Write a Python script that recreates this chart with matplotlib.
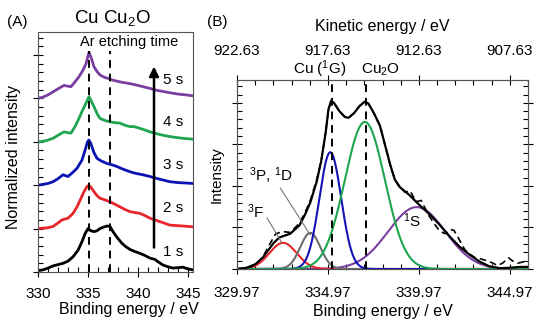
import numpy as np
import matplotlib
matplotlib.use("Agg")
import matplotlib.pyplot as plt
from matplotlib.ticker import MultipleLocator, FixedLocator

plt.rcParams['font.family'] = ['Liberation Sans', 'DejaVu Sans']
plt.rcParams['mathtext.fontset'] = 'custom'
plt.rcParams['mathtext.rm'] = 'Liberation Sans'
plt.rcParams['mathtext.it'] = 'Liberation Sans:italic'
plt.rcParams['font.size'] = 11

# ---------------- Panel A data (stacked, normalized) ----------------
a_1s_x = [330.0, 330.5, 331.0, 331.5, 332.0, 332.5, 333.0, 333.5, 334.0, 334.4, 334.7, 335.0, 335.3, 335.6,
          335.9, 336.2, 336.5, 336.9, 337.2, 337.5, 337.9, 338.4, 338.8, 339.2, 339.7, 340.2, 340.7, 341.2,
          341.7, 342.1, 342.5, 343.0, 343.5, 344.0, 344.5, 345.0, 345.5]
a_1s_y = [0.03, 0.05, 0.09, 0.14, 0.17, 0.20, 0.25, 0.35, 0.50, 0.70, 0.88, 1.00, 0.95, 0.93,
          0.95, 1.00, 1.03, 1.06, 1.05, 0.93, 0.80, 0.66, 0.58, 0.52, 0.47, 0.43, 0.38, 0.32,
          0.29, 0.22, 0.16, 0.12, 0.09, 0.10, 0.11, 0.07, 0.05]

a_2s_x = [330.0, 330.5, 331.0, 331.5, 332.0, 332.4, 333.0, 333.5, 333.9, 334.3, 334.6, 334.9, 335.1, 335.3,
          335.6, 335.9, 336.2, 336.7, 337.2, 337.7, 338.2, 338.7, 339.2, 339.7, 340.2, 340.7, 341.2, 341.7,
          342.2, 342.7, 343.2, 343.8, 344.5, 345.0, 345.5]
a_2s_y = [1.00, 1.01, 1.02, 1.05, 1.13, 1.20, 1.24, 1.35, 1.50, 1.70, 1.85, 1.97, 2.00, 1.95,
          1.85, 1.76, 1.70, 1.66, 1.62, 1.56, 1.50, 1.44, 1.39, 1.37, 1.35, 1.30, 1.24, 1.20,
          1.16, 1.12, 1.08, 1.07, 1.06, 1.05, 1.04]

a_3s_x = [330.0, 330.5, 331.0, 331.5, 332.0, 332.5, 333.0, 333.5, 333.9, 334.4, 334.7, 334.95, 335.1, 335.3,
          335.6, 335.9, 336.3, 336.9, 337.4, 337.9, 338.5, 339.2, 339.8, 340.5, 341.2, 341.8, 342.5, 343.2,
          344.0, 344.8, 345.5]
a_3s_y = [2.00, 2.02, 2.04, 2.08, 2.15, 2.24, 2.20, 2.30, 2.39, 2.58, 2.80, 3.00, 3.04, 2.95,
          2.75, 2.62, 2.56, 2.50, 2.47, 2.43, 2.37, 2.31, 2.27, 2.24, 2.20, 2.16, 2.12, 2.08,
          2.06, 2.05, 2.04]

a_4s_x = [330.0, 330.5, 331.0, 331.5, 332.0, 332.6, 333.0, 333.3, 333.7, 334.1, 334.5, 334.8, 335.1, 335.3,
          335.6, 335.9, 336.2, 336.7, 337.2, 337.7, 338.2, 338.7, 339.2, 339.6, 340.2, 340.7, 341.2, 341.8,
          342.5, 343.2, 343.8, 344.5, 345.5]
a_4s_y = [3.00, 3.01, 3.04, 3.08, 3.15, 3.23, 3.21, 3.20, 3.35, 3.54, 3.75, 3.89, 4.04, 3.95,
          3.81, 3.65, 3.54, 3.49, 3.46, 3.44, 3.43, 3.38, 3.35, 3.35, 3.31, 3.27, 3.23, 3.19,
          3.15, 3.12, 3.10, 3.08, 3.06]

a_5s_x = [330.0, 330.5, 331.0, 331.5, 332.0, 332.6, 333.0, 333.3, 333.7, 334.1, 334.5, 334.8, 335.1, 335.3,
          335.6, 335.9, 336.2, 336.6, 337.0, 337.5, 338.2, 338.7, 339.2, 339.8, 340.5, 341.2, 341.8, 342.5,
          343.2, 344.0, 344.8, 345.5]
a_5s_y = [4.00, 4.03, 4.08, 4.15, 4.22, 4.30, 4.28, 4.27, 4.38, 4.50, 4.65, 4.80, 5.06, 4.95,
          4.73, 4.62, 4.54, 4.49, 4.46, 4.42, 4.38, 4.36, 4.34, 4.31, 4.27, 4.23, 4.19, 4.16,
          4.13, 4.10, 4.08, 4.06]

a_labels = ["1 s", "2 s", "3 s", "4 s", "5 s"]
a_label_y = [0.47, 1.47, 2.47, 3.46, 4.42]
a_colors = ["black", "#E8262A", "#0A14B4", "#1EA550", "#7A3DA0"]
ref_lines_a = [335.1, 337.2]

# ---------------- Panel B data (Cu LMM fit) ----------------
env_x = [329.97, 330.5, 331.0, 331.4, 331.97, 332.3, 332.9, 333.4, 333.7, 334.0, 334.35, 334.6, 334.85, 335.0,
         335.15, 335.3, 335.6, 335.9, 336.1, 336.4, 336.7, 337.0, 337.2, 337.5, 337.83, 338.1, 338.4, 338.65,
         338.9, 339.45, 340.0, 340.6, 341.12, 341.67, 342.2, 342.77, 343.3, 343.87, 344.42, 345.0, 345.5, 345.97]
env_y = [0.0, 0.03, 0.12, 0.28, 0.62, 0.76, 0.85, 1.05, 1.30, 1.60, 2.10, 2.60, 3.30, 3.85,
         4.05, 4.00, 3.80, 3.66, 3.64, 3.75, 3.92, 4.03, 3.98, 3.75, 3.45, 3.00, 2.50, 2.15,
         1.98, 1.78, 1.54, 1.30, 1.06, 0.78, 0.54, 0.34, 0.18, 0.06, 0.02, 0.03, 0.05, 0.05]

raw_x = [329.97, 330.5, 331.0, 331.4, 331.8, 332.1, 332.5, 332.9, 333.4, 333.7, 334.0, 334.35, 334.6, 334.85,
         335.0, 335.15, 335.3, 335.6, 335.9, 336.1, 336.4, 336.7, 337.0, 337.2, 337.5, 337.83, 338.1, 338.4,
         338.65, 338.9, 339.2, 339.5, 339.8, 340.1, 340.5, 340.8, 341.1, 341.4, 341.7, 341.9, 342.2, 342.5,
         342.8, 343.1, 343.4, 343.7, 344.0, 344.3, 344.6, 344.9, 345.1, 345.4, 345.7, 345.97]
raw_y = [0.0, 0.02, 0.10, 0.30, 0.62, 0.85, 0.90, 0.88, 1.10, 1.35, 1.65, 2.15, 2.60, 3.30,
         3.85, 4.05, 4.00, 3.80, 3.66, 3.64, 3.75, 3.92, 4.03, 3.98, 3.75, 3.45, 3.00, 2.50,
         2.15, 2.00, 1.85, 1.88, 1.62, 1.65, 1.30, 1.10, 0.92, 0.85, 0.95, 0.93, 0.70, 0.46,
         0.35, 0.26, 0.24, 0.20, 0.15, 0.08, 0.15, 0.27, 0.20, 0.14, 0.17, 0.18]

# fitted components: centre (eV), height, sigma (eV)
comp_names = ["3F", "3P1D", "1G", "Cu2O", "1S"]
comp_center = [332.5, 334.0, 335.1, 337.0, 339.85]
comp_height = [0.63, 0.87, 2.81, 3.54, 1.49]
comp_sigma = [0.75, 0.55, 0.6, 1.1, 1.57]
comp_colors = ["#E8262A", "#6E6E6E", "#1414B4", "#1EA550", "#7A3DA0"]
comp_order = [4, 0, 1, 2, 3]
ref_lines_b = [335.2, 337.05]
photon_energy = 1252.6
b_ticks = [329.97, 334.97, 339.97, 344.97]

# ---------------- Figure ----------------
fig = plt.figure(figsize=(5.51, 3.2), dpi=100)
W, H = 551.0, 320.0

def box(l, t, r, b):
    return [l / W, 1 - b / H, (r - l) / W, (b - t) / H]

# ---- Panel A ----
axA = fig.add_axes(box(38, 32, 193, 272))
for xs, ys, c in zip([a_1s_x, a_2s_x, a_3s_x, a_4s_x, a_5s_x],
                     [a_1s_y, a_2s_y, a_3s_y, a_4s_y, a_5s_y], a_colors):
    axA.plot(xs, ys, color=c, lw=2.0, solid_joinstyle='round')
for xv in ref_lines_a:
    axA.plot([xv, xv], [0, 5.1], color='black', lw=1.4, ls=(0, (4, 3)))
axA.set_xlim(330, 345.5)
axA.set_ylim(0, 5.53)
axA.xaxis.set_major_locator(MultipleLocator(5))
axA.xaxis.set_minor_locator(MultipleLocator(1))
axA.yaxis.set_major_locator(MultipleLocator(1))
axA.yaxis.set_minor_locator(MultipleLocator(0.2))
axA.tick_params(axis='x', which='major', direction='inout', length=7, width=0.8, pad=7)
axA.tick_params(axis='x', which='minor', direction='in', length=3.5, width=0.8)
axA.tick_params(axis='y', which='major', direction='inout', length=7, width=0.8, labelleft=False)
axA.tick_params(axis='y', which='minor', direction='in', length=3.5, width=0.8)
for s in axA.spines.values():
    s.set_linewidth(0.8)
    s.set_color('#555555')
axA.set_xlabel("Binding energy / eV", fontsize=11.5)
axA.xaxis.set_label_coords(0.587, -0.125)
axA.set_ylabel("Normalized intensity", fontsize=11.5)
axA.yaxis.set_label_coords(-0.11, 0.48)
axA.text(339.1, 5.3, "Ar etching time", ha='center', va='center', fontsize=10.5)
axA.annotate("", xy=(341.6, 4.8), xytext=(341.6, 0.5),
             arrowprops=dict(arrowstyle='-|>', color='black', lw=1.8, mutation_scale=14))
for lab, yv in zip(a_labels, a_label_y):
    axA.text(342.5, yv, lab, ha='left', va='center', fontsize=11)
fig.text(112.5 / W, 1 - 18 / H, "Cu Cu$_2$O", ha='center', va='center', fontsize=13.5)
fig.text(17 / W, 1 - 22 / H, "(A)", ha='center', va='center', fontsize=11)

# ---- Panel B ----
axB = fig.add_axes(box(237, 80, 528, 269))
xx = np.linspace(329.97, 345.97, 600)
for i in comp_order:
    yy = comp_height[i] * np.exp(-0.5 * ((xx - comp_center[i]) / comp_sigma[i]) ** 2)
    axB.plot(xx, yy, color=comp_colors[i], lw=1.5)
axB.plot(env_x, env_y, color='black', lw=1.6)
axB.plot(raw_x, raw_y, color='black', lw=1.2, ls=(0, (4, 2.5)))
for xv in ref_lines_b:
    axB.plot([xv, xv], [0, 4.55], color='black', lw=1.4, ls=(0, (4, 3)))
axB.set_xlim(329.97, 345.97)
axB.set_ylim(0, 4.55)
axB.xaxis.set_major_locator(FixedLocator(b_ticks))
axB.xaxis.set_minor_locator(MultipleLocator(1, offset=0.97))
axB.set_xticklabels([f"{t:.2f}" for t in b_ticks])
axB.yaxis.set_major_locator(MultipleLocator(1))
axB.yaxis.set_minor_locator(MultipleLocator(0.2))
axB.tick_params(axis='both', which='major', direction='inout', length=7, width=0.8,
                right=True, labelleft=False, pad=9)
axB.tick_params(axis='both', which='minor', direction='in', length=3.5, width=0.8, right=True)
axB.set_xlabel("Binding energy / eV", fontsize=11.5)
axB.xaxis.set_label_coords(0.5, -0.185)
axB.set_ylabel("Intensity", fontsize=11)
axB.yaxis.set_label_coords(-0.045, 0.5)
for s in axB.spines.values():
    s.set_linewidth(0.8)
    s.set_color('#555555')

axT = axB.twiny()
axT.set_xlim(axB.get_xlim())
axT.xaxis.set_major_locator(FixedLocator(b_ticks))
axT.xaxis.set_minor_locator(MultipleLocator(1, offset=0.97))
axT.set_xticklabels([f"{photon_energy - t:.2f}" for t in b_ticks])
axT.tick_params(axis='x', which='major', direction='inout', length=7, width=0.8, pad=12)
axT.tick_params(axis='x', which='minor', direction='in', length=3.5, width=0.8)
axT.set_xlabel("Kinetic energy / eV", fontsize=11.5)
axT.xaxis.set_label_coords(0.5, 1.26)
for s in axT.spines.values():
    s.set_linewidth(0.8)
    s.set_color('#555555')

axB.text(336.0, 4.8, "Cu ($^1$G)", ha='right', va='center', fontsize=11, clip_on=False)
axB.text(336.8, 4.8, "Cu$_2$O", ha='left', va='center', fontsize=11, clip_on=False)
axB.text(331.84, 2.24, "$^3$P, $^1$D", ha='center', va='center', fontsize=11)
axB.plot([332.35, 334.0], [1.95, 0.82], color='#777777', lw=0.8)
axB.text(331.0, 1.37, "$^3$F", ha='center', va='center', fontsize=11)
axB.plot([331.62, 332.44], [1.23, 0.63], color='#777777', lw=0.8)
axB.text(339.6, 1.16, "$^1$S", ha='center', va='center', fontsize=11)
fig.text(217 / W, 1 - 22 / H, "(B)", ha='center', va='center', fontsize=11)

fig.savefig("out.png", dpi=100)
